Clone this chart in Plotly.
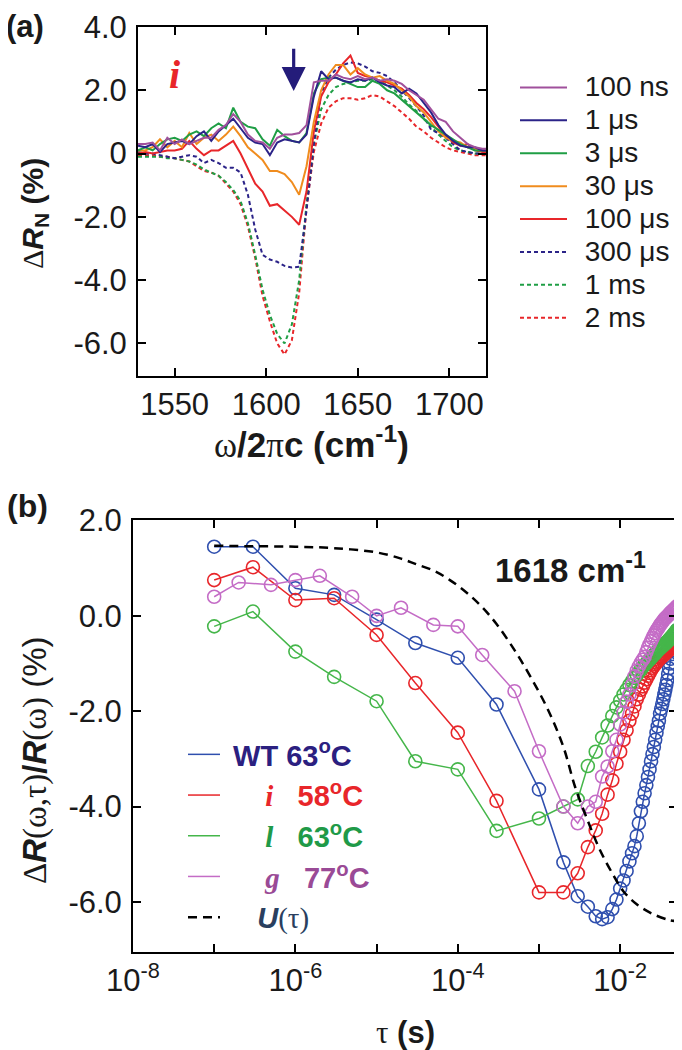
import plotly.graph_objects as go

# ---- panel (a): normalized difference spectra ----
wavenumber = list(range(1530, 1723, 4))

dr_100ns = [0.3, 0.3, 0.35, 0.1, 0.5, 0.3, 0.45, 0.3, 0.4, 0.5,
            0.5, 0.75, 0.9, 1.25, 1.0, 0.6, 0.4, 0.35, 0.15, 0.5,
            0.6, 0.6, 0.65, 0.9, 2.25, 2.3, 2.3, 2.5, 2.4, 2.35,
            2.45, 2.35, 2.4, 2.3, 2.35, 2.3, 2.2, 2.0, 1.85, 1.7,
            1.4, 1.1, 1.0, 0.7, 0.5, 0.3, 0.2, 0.15, 0.15]
dr_1us = [0.25, 0.2, 0.3, 0.05, 0.3, 0.35, 0.4, 0.3, 0.55, 0.7,
          0.4, 0.7, 0.9, 1.1, 0.8, 0.5, 0.35, 0.3, -0.05, 0.35,
          0.45, 0.4, 0.35, 0.6, 1.8, 2.6, 2.35, 2.4, 2.3, 2.25,
          2.35, 2.3, 2.4, 2.25, 2.15, 2.1, 1.9, 2.05, 1.9, 1.6,
          1.3, 0.9, 0.6, 0.4, 0.25, 0.2, 0.2, 0.1, 0.1]
dr_3us = [0.1, 0.2, 0.1, 0.3, 0.45, 0.5, 0.4, 0.6, 0.7, 0.55,
          0.8, 0.95, 0.8, 1.45, 1.0, 0.85, 0.8, 0.45, 0.25, 0.75,
          0.55, 0.4, 0.35, 0.65, 1.9, 2.35, 2.4, 2.4, 2.3, 2.2,
          2.1, 2.1, 2.3, 2.2, 2.0, 1.9, 1.7, 1.5, 1.3, 1.1,
          0.9, 0.75, 0.6, 0.45, 0.3, 0.2, 0.1, 0.1, 0.1]
dr_30us = [0.1, 0.1, 0.2, 0.45, 0.2, 0.4, 0.2, 0.65, 0.3, 0.5,
           0.6, 0.4, 0.6, 0.85, 0.55, 0.2, 0.0, -0.2, -0.55, -0.55,
           -0.65, -0.9, -1.3, -0.4, 1.0, 2.0, 2.5, 2.8, 2.8, 2.5,
           2.7, 2.5, 2.4, 2.45, 2.3, 2.2, 2.0, 1.8, 1.5, 1.3,
           1.0, 0.7, 0.5, 0.4, 0.35, 0.2, 0.15, 0.1, 0.1]
dr_100us = [0.0, 0.05, 0.0, 0.05, 0.1, 0.1, 0.15, 0.4, 0.15, -0.05,
            0.1, 0.1, 0.25, 0.4, 0.0, -0.5, -0.95, -1.2, -1.65, -1.6,
            -1.8, -2.0, -2.25, -1.2, 0.7, 1.8, 2.25, 2.5, 2.85, 3.1,
            2.55, 2.45, 2.4, 2.3, 2.25, 2.15, 2.05, 1.85, 1.6, 1.4,
            1.15, 0.85, 0.55, 0.35, 0.25, 0.3, 0.1, 0.05, 0.05]
dr_300us = [0.05, 0.0, 0.0, -0.05, -0.1, -0.15, -0.1, -0.05, -0.1, -0.3,
            -0.2, -0.3, -0.45, -0.45, -0.6, -1.3, -2.4, -3.2, -3.35, -3.42,
            -3.55, -3.6, -3.58, -1.8, 0.3, 1.9, 2.4, 2.65, 2.8, 2.88,
            2.85, 2.75, 2.6, 2.55, 2.45, 2.25, 2.0, 1.75, 1.5, 1.2,
            0.75, 0.65, 0.5, 0.3, 0.1, 0.05, 0.0, 0.0, 0.0]
dr_1ms = [-0.1, -0.1, -0.1, -0.1, -0.15, -0.15, -0.2, -0.25, -0.35, -0.5,
          -0.6, -0.7, -0.9, -1.15, -1.5, -2.2, -3.2, -4.3, -5.1, -5.7,
          -6.0, -5.4, -4.0, -1.6, 0.3, 1.4, 1.85, 2.1, 2.2, 2.25,
          2.3, 2.3, 2.35, 2.3, 2.15, 2.0, 1.8, 1.55, 1.35, 1.1,
          0.85, 0.6, 0.4, 0.2, 0.1, 0.05, 0.0, 0.0, 0.0]
dr_2ms = [-0.05, -0.05, -0.05, -0.1, -0.1, -0.15, -0.2, -0.25, -0.4, -0.55,
          -0.6, -0.7, -0.95, -1.2, -1.6, -2.3, -3.3, -4.5, -5.3, -6.0,
          -6.35, -5.9, -4.4, -1.7, 0.05, 0.95, 1.45, 1.65, 1.75, 1.75,
          1.7, 1.75, 1.85, 1.8, 1.65, 1.5, 1.3, 1.1, 0.85, 0.7,
          0.5, 0.35, 0.2, 0.1, 0.05, 0.0, -0.05, -0.05, -0.05]

# ---- panel (b): kinetics at 1618 cm-1 ----
tau_early = [1e-7, 3e-7, 1e-6, 3e-6, 1e-5, 3e-5, 1e-4, 3e-4]
tau_early_g = [1e-7, 2e-7, 5e-7, 1e-6, 2e-6, 5e-6, 1e-5, 2e-5, 5e-5, 1e-4, 2e-4, 5e-4]
tau_late = [k * 1e-3 for k in range(1, 51)]

wt_early = [1.45, 1.45, 0.58, 0.44, -0.08, -0.57, -0.88, -1.86]
wt_late = [-3.64, -5.17, -5.88, -6.1, -6.3, -6.36, -6.32, -6.15, -5.95, -5.72,
           -5.55, -5.35, -5.15, -4.98, -4.83, -4.62, -4.35, -4.1, -3.9, -3.72,
           -3.55, -3.38, -3.22, -3.05, -2.9, -2.75, -2.6, -2.45, -2.32, -2.2,
           -2.05, -1.95, -1.85, -1.75, -1.65, -1.55, -1.45, -1.35, -1.22, -1.1,
           -1.0, -0.9, -0.8, -0.72, -0.62, -0.55, -0.48, -0.42, -0.36, -0.3]
i_early = [0.75, 1.02, 0.33, 0.37, -0.4, -1.41, -2.45, -3.88]
i_late = [-5.8, -5.8, -5.4, -4.85, -4.5, -4.15, -3.75, -3.45, -3.1, -2.85,
          -2.6, -2.4, -2.2, -2.05, -1.9, -1.75, -1.65, -1.55, -1.48, -1.4,
          -1.33, -1.26, -1.2, -1.14, -1.09, -1.05, -1.01, -0.98, -0.95, -0.92,
          -0.89, -0.87, -0.85, -0.83, -0.81, -0.79, -0.77, -0.75, -0.73, -0.71,
          -0.69, -0.67, -0.65, -0.63, -0.61, -0.59, -0.57, -0.55, -0.53, -0.51]
l_early = [-0.22, 0.09, -0.75, -1.28, -1.79, -3.05, -3.22, -4.51]
l_late = [-4.25, -4.0, -3.85, -3.15, -2.85, -2.55, -2.3, -2.1, -1.92, -1.78,
          -1.65, -1.55, -1.45, -1.37, -1.3, -1.24, -1.18, -1.12, -1.07, -1.03,
          -0.99, -0.95, -0.92, -0.88, -0.85, -0.82, -0.79, -0.76, -0.73, -0.7,
          -0.68, -0.66, -0.64, -0.62, -0.6, -0.58, -0.56, -0.54, -0.52, -0.5,
          -0.48, -0.46, -0.44, -0.42, -0.4, -0.38, -0.36, -0.34, -0.32, -0.3]
g_early = [0.4, 0.7, 0.65, 0.75, 0.84, 0.4, 0.0, 0.17, -0.19, -0.22, -0.82, -1.58]
g_late = [-2.84, -4.0, -4.35, -4.0, -3.9, -3.37, -3.16, -2.84, -2.6, -2.28,
          -2.03, -1.8, -1.65, -1.45, -1.27, -1.15, -1.06, -0.98, -0.92, -0.86,
          -0.76, -0.67, -0.6, -0.53, -0.47, -0.41, -0.36, -0.31, -0.27, -0.23,
          -0.19, -0.16, -0.13, -0.1, -0.07, -0.05, -0.03, -0.01, 0.01, 0.03,
          0.05, 0.07, 0.09, 0.1, 0.12, 0.13, 0.15, 0.16, 0.18, 0.2]

tau_u = [1e-7, 3e-7, 1e-6, 3e-6, 1e-5, 2e-5, 3e-5, 5e-5, 8e-5, 1.3e-4,
         2e-4, 3e-4, 5e-4, 8e-4, 1.3e-3, 2e-3, 2.8e-3, 4e-3, 5.6e-3, 8e-3,
         1.1e-2, 1.6e-2, 2.5e-2, 4e-2, 4.8e-2]
u_vals = [1.47, 1.46, 1.45, 1.42, 1.33, 1.2, 1.09, 0.95, 0.75, 0.48,
          0.18, -0.17, -0.72, -1.3, -1.98, -2.75, -3.6, -4.3, -4.9, -5.4,
          -5.78, -6.05, -6.25, -6.38, -6.4]

SANS = "Liberation Sans"
SERIF = "Liberation Serif"
INK = "#1a1a1a"
# the page body adds an 8px margin, so the figure is drawn 8px in from the corner
OFF = 8
W, H = 682 - OFF, 1050 - OFF


def px(x):
    return (x - OFF) / W


def py(y):
    return 1 - (y - OFF) / H


def sym(ch):
    return f'<span style="font-family:{SERIF};font-weight:normal">{ch}</span>'


fig = go.Figure()
nb = "\u00a0"

spectra = [
    ("100 ns", dr_100ns, "#a0509c", "solid"),
    ("1 μs", dr_1us, "#2b2388", "solid"),
    ("3 μs", dr_3us, "#1f9e45", "solid"),
    ("30 μs", dr_30us, "#f08c1e", "solid"),
    ("100 μs", dr_100us, "#e8262a", "solid"),
    ("300 μs", dr_300us, "#2b2388", "4px,3px"),
    ("1 ms", dr_1ms, "#1f9e45", "4px,3px"),
    ("2 ms", dr_2ms, "#e8262a", "4px,3px"),
]
for name, vals, color, dash in reversed(spectra):
    fig.add_trace(go.Scatter(
        x=wavenumber, y=vals, mode="lines",
        name=f'{nb * 2}<span style="font-size:28px">{name}</span>',
        line=dict(color=color, width=2, dash=dash),
        xaxis="x", yaxis="y", legend="legend",
    ))

kinetics = [
    ("WT", "63", tau_early + tau_late, wt_early + wt_late, "#2f4fae", "#2b2080"),
    ("i", "58", tau_early + tau_late, i_early + i_late, "#e8262a", "#e8262a"),
    ("l", "63", tau_early + tau_late, l_early + l_late, "#45b64a", "#1f9a48"),
    ("g", "77", tau_early_g + tau_late, g_early + g_late, "#c46cc6", "#9a4a96"),
]
for label, temp, tx, ty, color, tcolor in kinetics:
    if label == "WT":
        lab = nb + "WT"
    else:
        lab = nb * 5 + f'<span style="font-family:{SERIF}"><i>{label}</i></span>' + nb * 2
    name = f'<span style="color:{tcolor}">{lab} {temp}<sup>o</sup>C</span>'
    fig.add_trace(go.Scatter(
        x=tx, y=ty, mode="lines", name=name,
        line=dict(color=color, width=1.5),
        legendgroup=label, legend="legend2",
        xaxis="x2", yaxis="y2",
    ))
    fig.add_trace(go.Scatter(
        x=tx, y=ty, mode="markers", showlegend=False,
        marker=dict(symbol="circle-open", size=13, color=color, line=dict(width=1.6)),
        xaxis="x2", yaxis="y2",
    ))

fig.add_trace(go.Scatter(
    x=tau_u, y=u_vals, mode="lines", line_shape="spline",
    name=nb * 4 + f'<i>U</i>{sym("(τ)")}',
    line=dict(color="black", width=2.5, dash="9px,6px"),
    legendgroup="U", legend="legend2", xaxis="x2", yaxis="y2",
))

axis_common = dict(
    showline=True, linewidth=2, linecolor="black", mirror="ticks",
    ticks="inside", ticklen=8, tickwidth=1.5, tickcolor="black",
    showgrid=False, zeroline=False, automargin=False,
    tickfont=dict(family=SANS, size=31, color=INK),
)

fig.update_layout(
    width=W, height=H, autosize=False,
    margin=dict(l=0, r=0, t=0, b=0, autoexpand=False),
    paper_bgcolor="white", plot_bgcolor="white",
    xaxis=dict(axis_common, domain=[px(138), px(486)], range=[1530, 1720],
               tickvals=[1550, 1600, 1650, 1700], anchor="y"),
    yaxis=dict(axis_common, domain=[py(376), py(27)], range=[-7.03, 4.0],
               tickvals=[-6, -4, -2, 0, 2, 4],
               ticktext=["-6.0", "-4.0", "-2.0", "0", "2.0", "4.0"],
               anchor="x", ticklabelstandoff=3),
    xaxis2=dict(axis_common, type="log", domain=[px(133), px(677)], range=[-8, -1.3],
                tickvals=[1e-8, 1e-7, 1e-6, 1e-5, 1e-4, 1e-3, 1e-2],
                ticktext=["10<sup>-8</sup>", "", "10<sup>-6</sup>", "",
                          "10<sup>-4</sup>", "", "10<sup>-2</sup>"],
                anchor="y2"),
    yaxis2=dict(axis_common, domain=[py(952), py(520)], range=[-7.05, 2.01],
                tickvals=[-6, -4, -2, 0, 2],
                ticktext=["-6.0", "-4.0", "-2.0", "0.0", "2.0"],
                anchor="x2", ticklabelstandoff=3),
    legend=dict(
        x=px(515), y=py(66), xanchor="left", yanchor="top",
        font=dict(family=SANS, size=23, color=INK),
        traceorder="reversed", bgcolor="rgba(0,0,0,0)", itemwidth=47,
    ),
    legend2=dict(
        x=px(183), y=py(729), xanchor="left", yanchor="top",
        font=dict(family=SANS, size=29, weight="bold"),
        tracegroupgap=0, bgcolor="rgba(0,0,0,0)", itemwidth=32,
    ),
    showlegend=True,
)

ann = []
ann.append(dict(text="<b>(a)</b>", x=px(5), y=py(26), xanchor="left", yanchor="middle",
                font=dict(family=SANS, size=31, color=INK), borderpad=0))
ann.append(dict(text="<b>(b)</b>", x=px(5), y=py(506), xanchor="left", yanchor="middle",
                font=dict(family=SANS, size=32, color=INK)))
ann.append(dict(text=f"{sym('Δ')}<b><i>R</i><sub>N</sub> (%)</b>", x=px(35), y=py(214),
                textangle=-90, xanchor="center", yanchor="middle",
                font=dict(family=SANS, size=30, color=INK)))
ann.append(dict(text=f"{sym('ω')}<b>/2</b>{sym('π')}<b>c (cm<sup>-1</sup>)</b>",
                x=px(311), y=py(443), xanchor="center", yanchor="middle",
                font=dict(family=SANS, size=35, color=INK)))
ann.append(dict(text=f"{sym('Δ')}<b><i>R</i></b>{sym('(ω,τ)')}<b>/<i>R</i></b>{sym('(ω)')} (%)",
                x=px(35), y=py(760), textangle=-90, xanchor="center", yanchor="middle",
                font=dict(family=SANS, size=33, color=INK)))
ann.append(dict(text=f"{sym('τ')} <b>(s)</b>", x=px(405), y=py(1032),
                xanchor="center", yanchor="middle",
                font=dict(family=SANS, size=31, color=INK)))
ann.append(dict(text="<b>1618 cm<sup>-1</sup></b>", x=px(570), y=py(568),
                xanchor="center", yanchor="middle",
                font=dict(family=SANS, size=33, color=INK)))
for a in ann:
    a.update(xref="paper", yref="paper", showarrow=False)
fig.update_layout(annotations=ann)

fig.add_annotation(text="<b><i>i</i></b>", x=1550, y=2.5, xref="x", yref="y",
                   showarrow=False, font=dict(family=SERIF, size=40, color="#e8262a"))
fig.add_annotation(text="", x=1615, y=1.98, ax=1615, ay=3.36,
                   xref="x", yref="y", axref="x", ayref="y",
                   showarrow=True, arrowhead=2, arrowsize=1.5, arrowwidth=3.2,
                   arrowcolor="#241c7a")

fig.write_html("out.html")
